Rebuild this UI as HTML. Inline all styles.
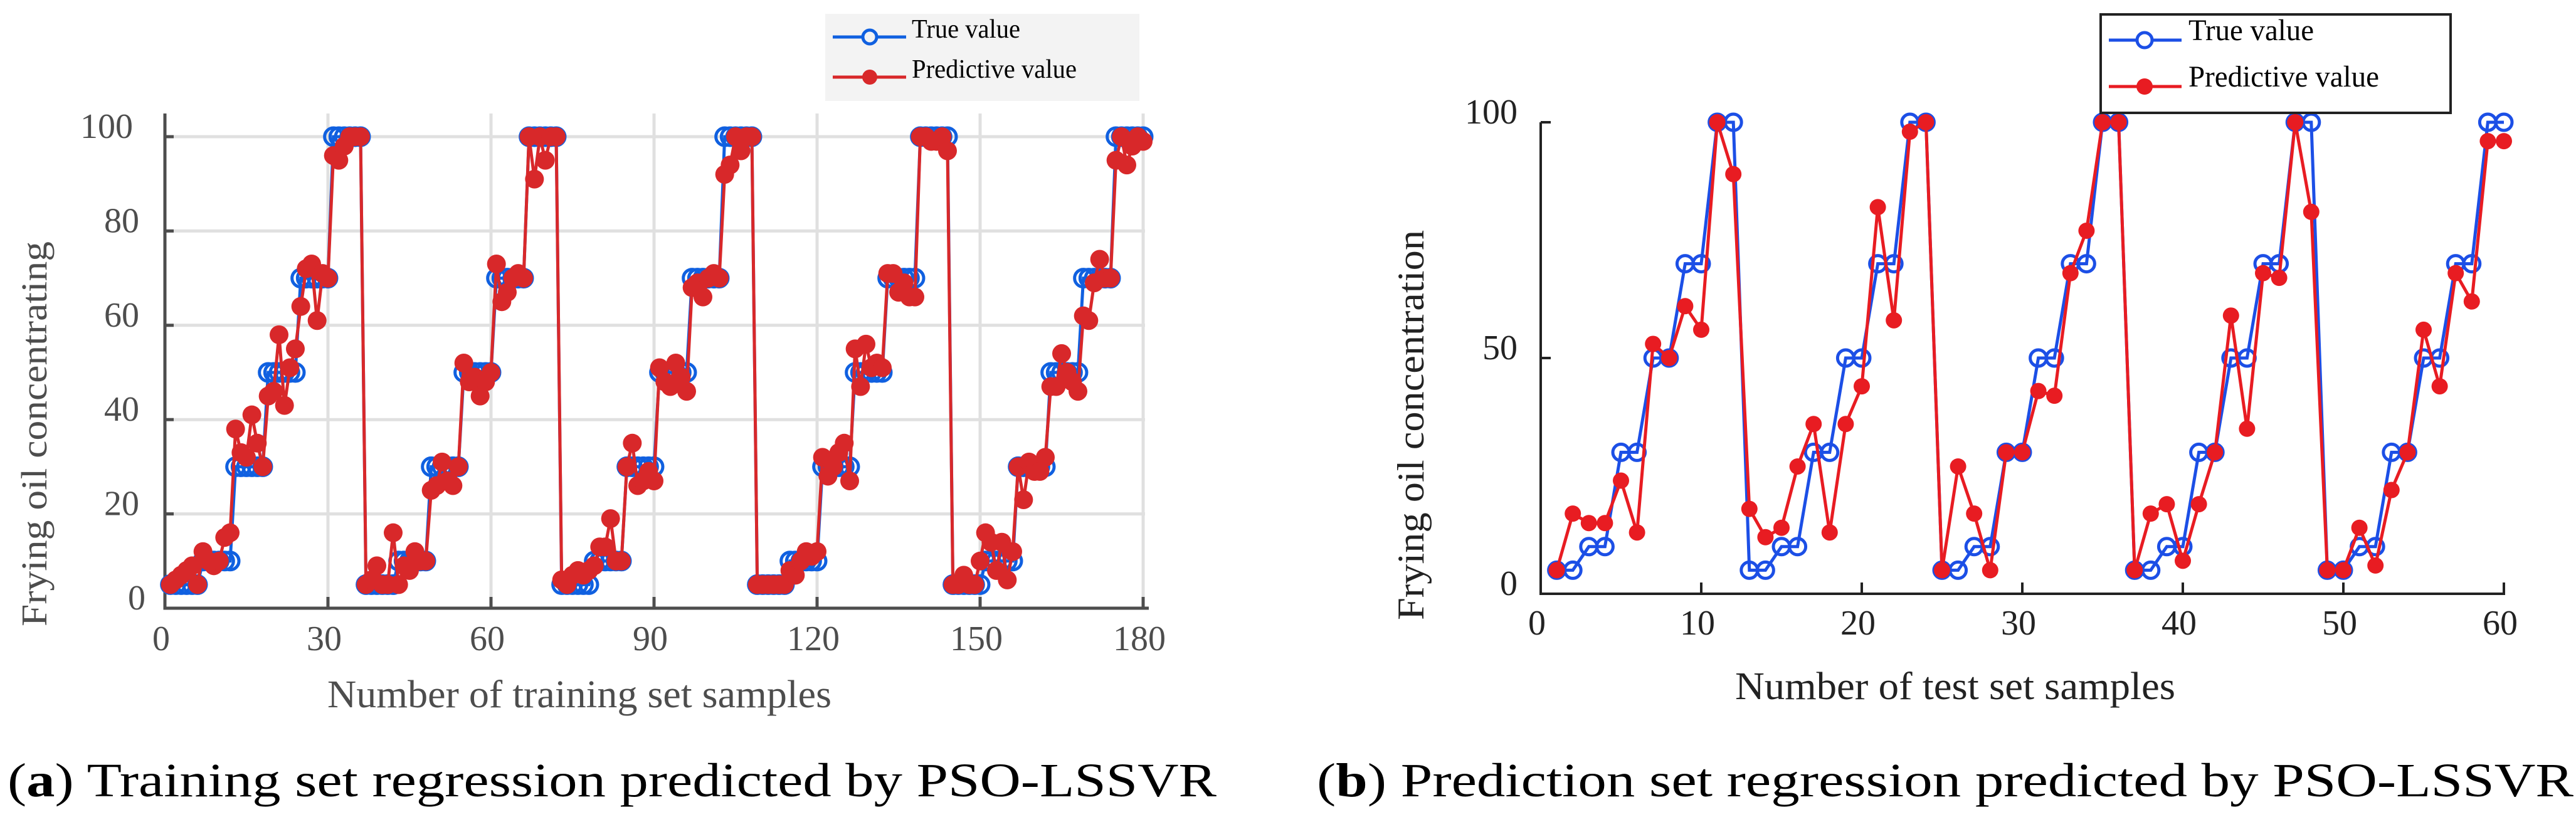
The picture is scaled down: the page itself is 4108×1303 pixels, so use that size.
<!DOCTYPE html>
<html><head><meta charset="utf-8"><style>
html,body{margin:0;padding:0;background:#fff;}
svg{display:block;}
text{font-family:"Liberation Serif",serif;}
</style></head><body>
<svg id="fig" width="4108" height="1303" viewBox="0 0 4108 1303" xmlns="http://www.w3.org/2000/svg">
<g id="chartA"></g>
<g id="chartB"></g>
<text x="12" y="1270" font-size="76" fill="#000" textLength="1928" lengthAdjust="spacingAndGlyphs">(<tspan font-weight="bold">a</tspan>) Training set regression predicted by PSO-LSSVR</text>
<text x="2100" y="1270" font-size="76" fill="#000" textLength="2004" lengthAdjust="spacingAndGlyphs">(<tspan font-weight="bold">b</tspan>) Prediction set regression predicted by PSO-LSSVR</text>
</svg>
<script>
// ---- Chart A data (training set) ----
const trainLevels = [5,10,30,50,70,100];
const trainTrue = [];
for (let b=0;b<5;b++) for (const l of trainLevels) for (let k=0;k<6;k++) trainTrue.push(l);
const trainPred = [
5,6,7,8,9,5, 12,10,9,10,15,16, 38,33,32,41,35,30, 45,46,58,43,51,55, 64,72,73,61,71,70, 96,95,98,100,100,100,
5,6,9,5,5,16, 5,9,8,12,10,10, 25,26,31,27,26,30, 52,48,49,45,48,50, 73,65,67,70,71,70, 100,91,100,95,100,100,
6,5,7,8,7,8, 9,13,13,19,10,10, 30,35,26,27,29,27, 51,48,47,52,49,46, 68,69,66,70,71,70, 92,94,100,97,100,100,
5,5,5,5,5,5, 8,7,10,12,11,12, 32,28,30,33,35,27, 55,47,56,51,52,51, 71,71,67,69,66,66, 100,100,99,99,100,97,
5,5,7,5,5,10, 16,14,8,14,6,12, 30,23,31,29,29,32, 47,47,54,50,48,46, 62,61,69,74,70,70, 95,100,94,98,100,99];
const trainXTicks = [0,30,60,90,120,150,180];
const trainYTicks = [0,20,40,60,80,100];

// ---- Chart B data (test set) ----
const testLevels = [5,5,10,10,30,30,50,50,70,70,100,100];
const testTrue = [];
for (let b=0;b<5;b++) for (const l of testLevels) testTrue.push(l);
const testPred = [
5,17,15,15,24,13,53,50,61,56,100,89,
18,12,14,27,36,13,36,44,82,58,98,100,
5,27,17,5,30,30,43,42,68,77,100,100,
5,17,19,7,19,30,59,35,68,67,100,81,
5,5,14,6,22,30,56,44,68,62,96,96];
const testXTicks = [0,10,20,30,40,50,60];
const testYTicks = [0,50,100];

const NS='http://www.w3.org/2000/svg';
function mk(parent,tag,attrs,txt){const e=document.createElementNS(NS,tag);for(const k in attrs)e.setAttribute(k,attrs[k]);if(txt!==undefined)e.textContent=txt;parent.appendChild(e);return e;}

// ---------- Chart A ----------
(function(){
  const g=document.getElementById('chartA');
  const x0=263,x1=1823,y0=970,y1=218,top=181,right=1826;
  const sx=v=>x0+(v/180)*(x1-x0);
  const sy=v=>y0-(v/100)*(y0-y1);
  const axc='#4d4d4d';
  for(const t of trainXTicks){ if(t===0)continue;
    const l=mk(g,'line',{x1:sx(t),x2:sx(t),y1:top,y2:y0,stroke:'#e0e0e0','stroke-width':5});
    
    }
  for(const t of trainYTicks){ if(t===0)continue;
    const l=mk(g,'line',{x1:x0,x2:right,y1:sy(t),y2:sy(t),stroke:'#e0e0e0','stroke-width':5});
    
    }
  const ax=mk(g,'path',{d:`M${x0} ${top} V${y0} H${right+6}`,fill:'none',stroke:axc,'stroke-width':5});
  
  
  for(const t of trainXTicks){
    const tk=mk(g,'line',{x1:sx(t),x2:sx(t),y1:y0,y2:y0-18,stroke:axc,'stroke-width':5});
    
    
    const tx=mk(g,'text',{x:sx(t)-6,y:1037,'font-size':56,fill:axc,'text-anchor':'middle'},String(t));
    
    }
  for(const t of trainYTicks){
    const tk=mk(g,'line',{x1:x0,x2:x0+14,y1:sy(t),y2:sy(t),stroke:axc,'stroke-width':5});
    
    
    const tx=mk(g,'text',{x:t===100?212:(t===0?232:222),y:sy(t)+2,'font-size':56,fill:axc,'text-anchor':'end'},String(t));
    
    }
  const yl=mk(g,'text',{x:0,y:0,'font-size':58,fill:axc,'text-anchor':'middle',transform:'translate(74,692) rotate(-90)',textLength:614,lengthAdjust:'spacingAndGlyphs'},'Frying oil concentrating');
  
  
  const xl=mk(g,'text',{x:522,y:1128,'font-size':62,fill:axc,textLength:804,lengthAdjust:'spacingAndGlyphs'},'Number of training set samples');
  
  
  const blue='#1060e0',red='#d8282a';
  const tp=trainTrue.map((v,i)=>`${sx(i+1)},${sy(v)}`).join(' ');
  const bl=mk(g,'polyline',{points:tp,fill:'none',stroke:blue,'stroke-width':5});
  
  
  trainTrue.forEach((v,i)=>{const c=mk(g,'circle',{cx:sx(i+1),cy:sy(v),r:14,fill:'none',stroke:blue,'stroke-width':5});
    
    });
  const pp=trainPred.map((v,i)=>`${sx(i+1)},${sy(v)}`).join(' ');
  const rl=mk(g,'polyline',{points:pp,fill:'none',stroke:red,'stroke-width':5});
  
  
  trainPred.forEach((v,i)=>{const c=mk(g,'circle',{cx:sx(i+1),cy:sy(v),r:15,fill:red});
    
    });
  const lg=mk(g,'g',{});
  
  
  mk(lg,'rect',{x:1316,y:22,width:501,height:139,fill:'#f3f3f3'});
  mk(lg,'line',{x1:1328,x2:1445,y1:59,y2:59,stroke:blue,'stroke-width':5});
  mk(lg,'circle',{cx:1387,cy:59,r:11,fill:'#f3f3f3',stroke:blue,'stroke-width':5});
  mk(lg,'line',{x1:1328,x2:1445,y1:123,y2:123,stroke:red,'stroke-width':5});
  mk(lg,'circle',{cx:1387,cy:123,r:12,fill:red});
  const t1=mk(lg,'text',{x:1454,y:60,'font-size':42,fill:'#000',textLength:173,lengthAdjust:'spacingAndGlyphs'},'True value');
  
  
  const t2=mk(lg,'text',{x:1454,y:124,'font-size':42,fill:'#000',textLength:263,lengthAdjust:'spacingAndGlyphs'},'Predictive value');
  
  
})();

// ---------- Chart B ----------
(function(){
  const g=document.getElementById('chartB');
  const x0=2457,x1=3993,y0=947,y1=195;
  const sx=v=>x0+(v/60)*(x1-x0);
  const sy=v=>y0-(v/100)*(y0-y1);
  const axc='#222';
  const ax=mk(g,'path',{d:`M${x0} ${y1} V${y0} H${x1+2}`,fill:'none',stroke:axc,'stroke-width':4});
  
  
  for(const t of testXTicks){
    const tk=mk(g,'line',{x1:sx(t),x2:sx(t),y1:y0,y2:y0-18,stroke:axc,'stroke-width':4});
    
    
    const tx=mk(g,'text',{x:sx(t)-6,y:1012,'font-size':56,fill:axc,'text-anchor':'middle'},String(t));
    
    }
  for(const t of testYTicks){
    const tk=mk(g,'line',{x1:x0,x2:x0+16,y1:sy(t),y2:sy(t),stroke:axc,'stroke-width':4});
    
    
    const tx=mk(g,'text',{x:2420,y:sy(t)+2,'font-size':56,fill:axc,'text-anchor':'end'},String(t));
    
    }
  const yl=mk(g,'text',{x:0,y:0,'font-size':60,fill:axc,'text-anchor':'middle',transform:'translate(2270,678) rotate(-90)',textLength:622,lengthAdjust:'spacingAndGlyphs'},'Frying oil concentration');
  
  
  const xl=mk(g,'text',{x:2767,y:1115,'font-size':62,fill:axc,textLength:702,lengthAdjust:'spacingAndGlyphs'},'Number of test set samples');
  
  
  const blue='#1c4fe6',red='#e81c22';
  const tp=testTrue.map((v,i)=>`${sx(i+1)},${sy(v)}`).join(' ');
  const bl=mk(g,'polyline',{points:tp,fill:'none',stroke:blue,'stroke-width':5});
  
  
  testTrue.forEach((v,i)=>{const c=mk(g,'circle',{cx:sx(i+1),cy:sy(v),r:13,fill:'none',stroke:blue,'stroke-width':5});
    
    });
  const pp=testPred.map((v,i)=>`${sx(i+1)},${sy(v)}`).join(' ');
  const rl=mk(g,'polyline',{points:pp,fill:'none',stroke:red,'stroke-width':5});
  
  
  testPred.forEach((v,i)=>{const c=mk(g,'circle',{cx:sx(i+1),cy:sy(v),r:13,fill:red});
    
    });
  const lg=mk(g,'g',{});
  
  
  mk(lg,'rect',{x:3350,y:23,width:558,height:157,fill:'#fff',stroke:'#222','stroke-width':4});
  mk(lg,'line',{x1:3363,x2:3479,y1:64,y2:64,stroke:blue,'stroke-width':5});
  mk(lg,'circle',{cx:3420,cy:64,r:12,fill:'#fff',stroke:blue,'stroke-width':5});
  mk(lg,'line',{x1:3363,x2:3479,y1:138,y2:138,stroke:red,'stroke-width':5});
  mk(lg,'circle',{cx:3420,cy:138,r:13,fill:red});
  const t1=mk(lg,'text',{x:3490,y:64,'font-size':48,fill:'#000',textLength:200,lengthAdjust:'spacingAndGlyphs'},'True value');
  
  
  const t2=mk(lg,'text',{x:3490,y:138,'font-size':48,fill:'#000',textLength:304,lengthAdjust:'spacingAndGlyphs'},'Predictive value');
  
  
})();
</script>
</body></html>
